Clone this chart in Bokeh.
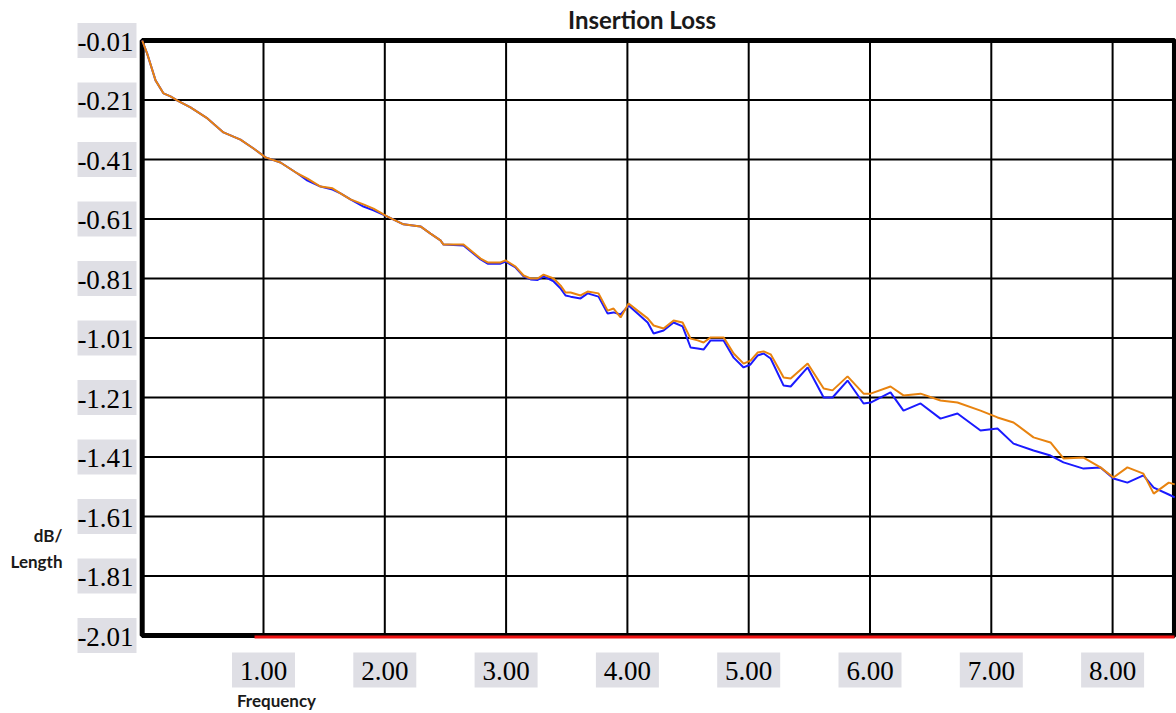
from bokeh.plotting import figure
from bokeh.embed import file_html
from bokeh.resources import INLINE
from bokeh.models import Range1d
from bokeh.core.properties import value

# ---- data ----
freq = [0.000, 0.041, 0.110, 0.176, 0.233, 0.291, 0.398, 0.538, 0.670, 0.810,
        0.918, 1.017, 1.140, 1.280, 1.363, 1.470, 1.569, 1.635, 1.717, 1.824,
        1.907, 2.022, 2.154, 2.294, 2.377, 2.459, 2.484, 2.649, 2.790, 2.848,
        2.954, 2.995, 3.078, 3.144, 3.202, 3.260, 3.309, 3.392, 3.450, 3.490,
        3.532, 3.614, 3.672, 3.762, 3.837, 3.886, 3.944, 4.010, 4.084, 4.167,
        4.216, 4.298, 4.381, 4.455, 4.521, 4.579, 4.628, 4.686, 4.793, 4.876,
        4.958, 5.015, 5.073, 5.123, 5.181, 5.288, 5.346, 5.486, 5.618, 5.691,
        5.815, 5.947, 6.005, 6.169, 6.276, 6.417, 6.581, 6.721, 6.911, 7.051,
        7.183, 7.348, 7.488, 7.595, 7.760, 7.900, 8.007, 8.122, 8.254, 8.339,
        8.463, 8.512]

loss_orange = [-0.010, -0.054, -0.144, -0.188, -0.198, -0.212, -0.235, -0.272, -0.319, -0.343,
               -0.373, -0.403, -0.420, -0.457, -0.474, -0.501, -0.507, -0.524, -0.544, -0.561,
               -0.575, -0.602, -0.628, -0.635, -0.659, -0.682, -0.696, -0.696, -0.743, -0.756,
               -0.756, -0.749, -0.770, -0.800, -0.810, -0.810, -0.797, -0.810, -0.834, -0.857,
               -0.857, -0.867, -0.854, -0.860, -0.918, -0.911, -0.941, -0.894, -0.918, -0.944,
               -0.968, -0.978, -0.951, -0.958, -1.012, -1.018, -1.025, -1.008, -1.008, -1.062,
               -1.096, -1.086, -1.059, -1.055, -1.065, -1.143, -1.146, -1.096, -1.180, -1.186,
               -1.139, -1.197, -1.197, -1.173, -1.203, -1.197, -1.220, -1.227, -1.254, -1.277,
               -1.294, -1.344, -1.361, -1.415, -1.412, -1.445, -1.479, -1.445, -1.466, -1.533,
               -1.496, -1.502]

loss_blue = [-0.010, -0.054, -0.144, -0.188, -0.198, -0.212, -0.235, -0.272, -0.319, -0.343,
             -0.373, -0.403, -0.420, -0.457, -0.481, -0.501, -0.511, -0.524, -0.544, -0.568,
             -0.581, -0.602, -0.628, -0.635, -0.659, -0.682, -0.696, -0.699, -0.746, -0.760,
             -0.760, -0.753, -0.773, -0.803, -0.813, -0.815, -0.803, -0.820, -0.844, -0.867,
             -0.871, -0.877, -0.860, -0.871, -0.928, -0.924, -0.931, -0.901, -0.928, -0.958,
             -0.995, -0.985, -0.958, -0.971, -1.042, -1.045, -1.049, -1.018, -1.018, -1.076,
             -1.109, -1.099, -1.069, -1.062, -1.079, -1.170, -1.173, -1.109, -1.210, -1.210,
             -1.153, -1.230, -1.227, -1.193, -1.254, -1.230, -1.281, -1.264, -1.321, -1.314,
             -1.365, -1.388, -1.405, -1.428, -1.449, -1.445, -1.482, -1.496, -1.472, -1.513,
             -1.536, -1.546]

ref_freq = [0.926, 8.51]
ref_loss = [-2.015, -2.015]

x_ticks = [1.0, 2.0, 3.0, 4.0, 5.0, 6.0, 7.0, 8.0]
y_ticks = [-0.01, -0.21, -0.41, -0.61, -0.81, -1.01, -1.21, -1.41, -1.61, -1.81, -2.01]
x_tick_labels = ["1.00", "2.00", "3.00", "4.00", "5.00", "6.00", "7.00", "8.00"]
y_tick_labels = ["-0.01", "-0.21", "-0.41", "-0.61", "-0.81", "-1.01", "-1.21", "-1.41",
                 "-1.61", "-1.81", "-2.01"]

title_text = "Insertion Loss"
x_label = "Frequency"
y_label = "dB/\nLength"

# ---- plot domain & canvas mapping ----
X_MIN, X_MAX = 0.0, 8.51
Y_MIN, Y_MAX = -2.01, -0.01
W, H = 1176, 713
FRAME_L, FRAME_T = 141.7, 40.0          # px of (X_MIN, Y_MAX)
PX_PER_X = 121.3
PX_PER_Y = 297.5


def xd(px):
    return X_MIN + (px - FRAME_L) / PX_PER_X


def yd(py):
    return Y_MAX - (py - FRAME_T) / PX_PER_Y


p = figure(width=W, height=H, output_backend="svg", toolbar_location=None,
           x_range=Range1d(xd(0), xd(W)), y_range=Range1d(yd(H), yd(0)),
           min_border=0)
p.title = None
p.xaxis.visible = False
p.yaxis.visible = False
p.xgrid.visible = False
p.ygrid.visible = False
p.outline_line_color = None
p.background_fill_color = "white"
p.border_fill_color = "white"

# grid lines
p.segment(x0=x_ticks, y0=[Y_MIN] * len(x_ticks), x1=x_ticks, y1=[Y_MAX] * len(x_ticks),
          line_color="black", line_width=2)
p.segment(x0=[X_MIN] * len(y_ticks), y0=y_ticks, x1=[X_MAX] * len(y_ticks), y1=y_ticks,
          line_color="black", line_width=2)

# thick frame
p.quad(left=[X_MIN], right=[X_MAX], bottom=[Y_MIN], top=[Y_MAX],
       fill_color=None, line_color="black", line_width=5)

# series
p.line(ref_freq, ref_loss, line_color="#f01414", line_width=3)
p.line(freq, loss_blue, line_color="#1a1aff", line_width=2)
p.line(freq, loss_orange, line_color="#e8830f", line_width=2)

# tick labels with grey boxes
box_color = "#dfdfe5"
ylab_x = xd(106.5)
p.rect(x=[ylab_x] * len(y_ticks), y=y_ticks, width=59, height=35,
       width_units="screen", height_units="screen", fill_color=box_color, line_color=None)
p.text(x=[xd(105)] * len(y_ticks), y=y_ticks, text=y_tick_labels,
       text_font=value("Liberation Serif"), text_font_size="27px", text_color="black",
       text_align="center", text_baseline="middle", y_offset=1)

xlab_y = yd(669.5)
p.rect(x=x_ticks, y=[xlab_y] * len(x_ticks), width=63, height=35,
       width_units="screen", height_units="screen", fill_color=box_color, line_color=None)
p.text(x=x_ticks, y=[xlab_y] * len(x_ticks), text=x_tick_labels,
       text_font=value("Liberation Serif"), text_font_size="27px", text_color="black",
       text_align="center", text_baseline="middle", y_offset=1)

# title and axis titles
p.text(x=[xd(641.5)], y=[yd(19)], text=[title_text], text_font=value("Lato"),
       text_font_style="bold", text_font_size="24px", text_color="#1a1a1a",
       text_align="center", text_baseline="middle")
p.text(x=[xd(62)], y=[yd(548)], text=[y_label], text_font=value("Lato"),
       text_font_style="bold", text_font_size="17px", text_color="#1a1a1a",
       text_align="right", text_baseline="middle", text_line_height=1.2)
p.text(x=[xd(276)], y=[yd(700)], text=[x_label], text_font=value("Lato"),
       text_font_style="bold", text_font_size="17px", text_color="#1a1a1a",
       text_align="center", text_baseline="middle")

open("out.html", "w").write(file_html(p, INLINE))
